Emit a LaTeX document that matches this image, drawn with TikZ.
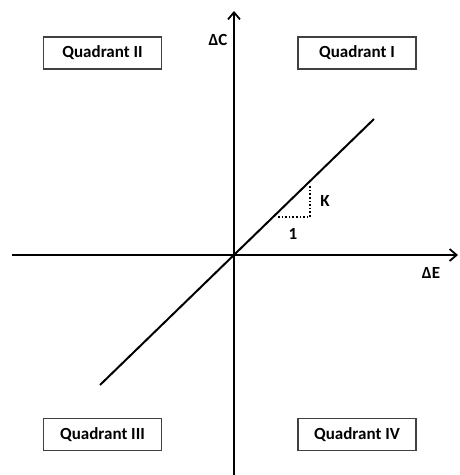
\documentclass[tikz,border=0pt]{standalone}
\usepackage{fontspec}
\setmainfont{Carlito}
\usetikzlibrary{arrows.meta}
\tikzset{
  quadbox/.style={draw=black!75,line width=1.2pt,minimum width=118pt,minimum height=32pt,inner sep=0pt,font=\fontsize{17}{19}\selectfont\bfseries},
  axislbl/.style={font=\fontsize{17}{19}\selectfont\bfseries},
  axisline/.style={line width=2pt,-{Straight Barb[length=7pt,width=12pt,line width=1.8pt]}}
}
\begin{document}
\begin{tikzpicture}[x=1pt,y=-1pt]
\useasboundingbox (0,0) rectangle (459,475);
% axes
\coordinate (xl) at (12,255); \coordinate (xr) at (458,255);
\coordinate (yb) at (234,475); \coordinate (yt) at (234,11);
\draw[axisline] (xl) -- (xr);
\draw[axisline] (yb) -- (yt);
\node[axislbl] (dC) at (218,40) {ΔC};
\node[axislbl] (dE) at (431,273) {ΔE};
% line through origin
\coordinate (la) at (100,385); \coordinate (lb) at (374,119);
\draw[line width=2pt] (la) -- (lb);
% slope triangle
\coordinate (ta) at (278,217); \coordinate (tb) at (310,217); \coordinate (tc) at (310,185);
\draw[line width=1.6pt,dotted] (ta) -- (tb) -- (tc);
\node[axislbl] (kk) at (325,201) {K};
\node[axislbl] (one) at (293,234) {1};
% quadrant boxes
\node[quadbox] (q2) at (102.5,53) {Quadrant II};
\node[quadbox] (q1) at (357,53) {Quadrant I};
\node[quadbox] (q3) at (102.5,434.5) {Quadrant III};
\node[quadbox] (q4) at (357,434.5) {Quadrant IV};
\end{tikzpicture}
\end{document}
